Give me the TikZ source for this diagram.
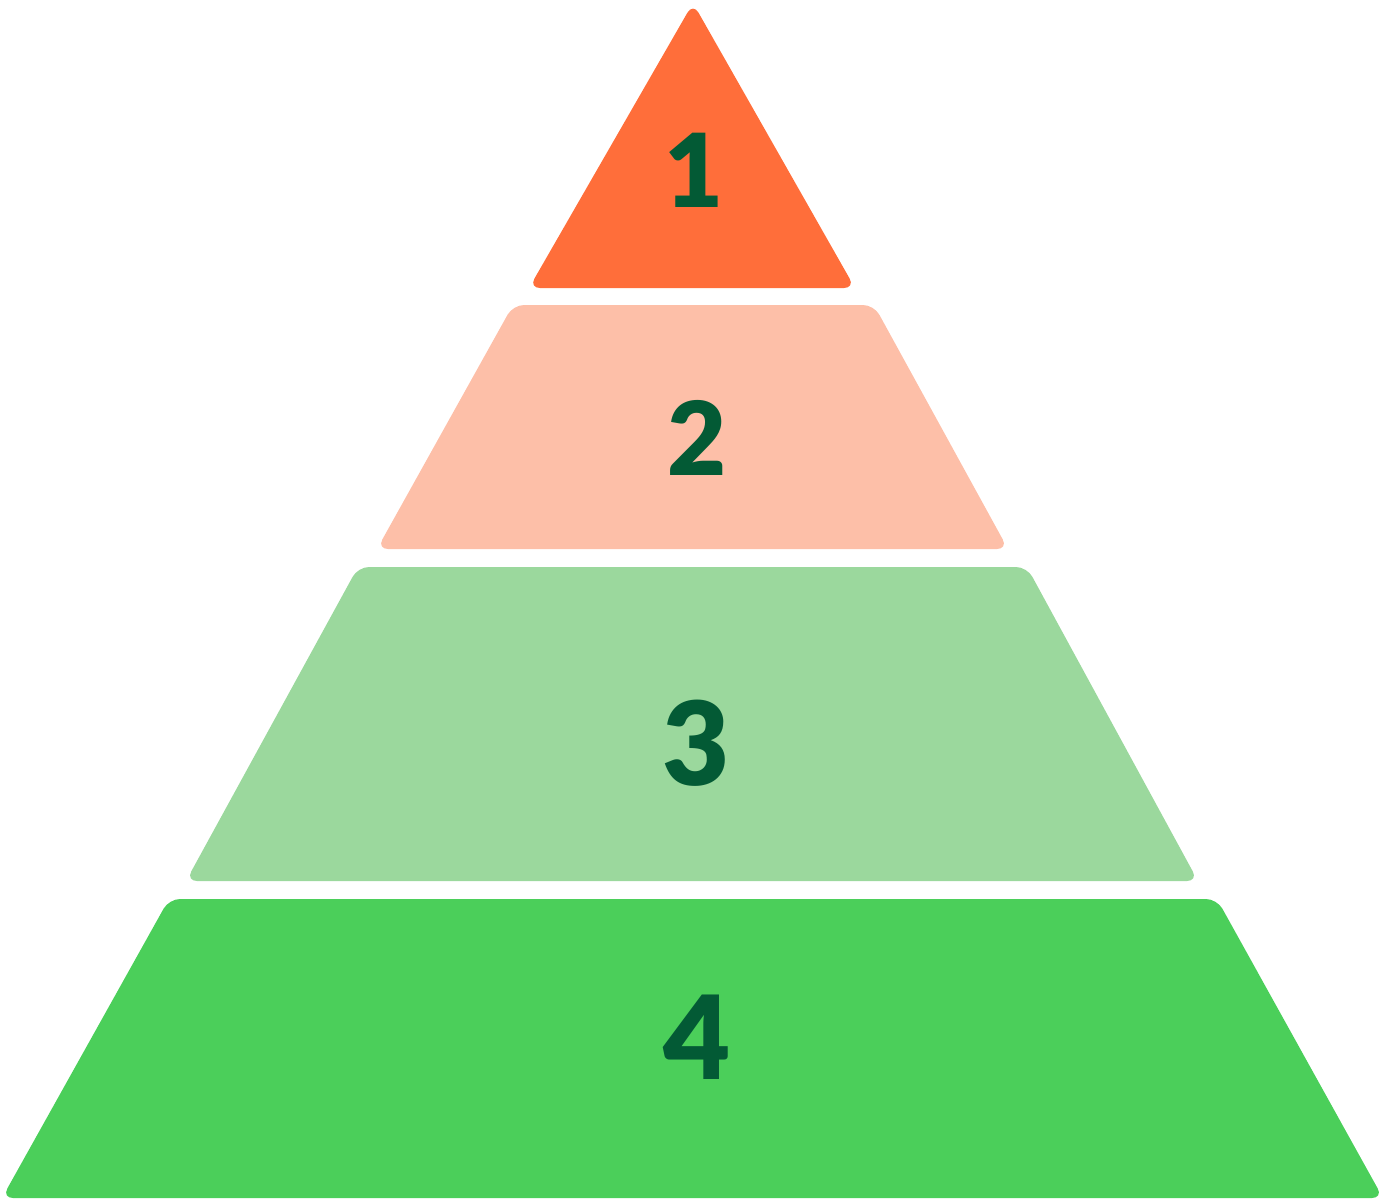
\documentclass[tikz,border=0pt]{standalone}
\usepackage{fontspec}
\setmainfont{Lato}[BoldFont={Lato Black}]
\definecolor{lvlA}{HTML}{FF6E3A}
\definecolor{lvlB}{HTML}{FDBFA8}
\definecolor{lvlC}{HTML}{9BD89D}
\definecolor{lvlD}{HTML}{4BCF5A}
\definecolor{numc}{HTML}{035A35}
\tikzset{
  layer/.style={rounded corners=11*0.01cm},
  num/.style={text=numc, inner sep=0pt, anchor=center},
}
\begin{document}
\begin{tikzpicture}[x=0.01cm,y=-0.01cm]
\useasboundingbox (0,0) rectangle (1384,1199);
% layer 1
\fill[lvlA, layer] (693,3) -- (855,288) -- (529,288) -- cycle;
% layer 2
\fill[lvlB, layer] (513,305) -- (874,305) -- (1008,549) -- (377,549) -- cycle;
% layer 3
\fill[lvlC, layer] (358,567) -- (1027,567) -- (1198,881) -- (186,881) -- cycle;
% layer 4
\fill[lvlD, layer] (169,899) -- (1217,899) -- (1383,1198) -- (2,1198) -- cycle;
\node[num, font=\fontsize{29}{31}\selectfont\bfseries] (n1) at (694,170) {1};
\node[num, font=\fontsize{29}{31}\selectfont\bfseries] (n2) at (697,438) {2};
\node[num, font=\fontsize{33}{36}\selectfont\bfseries] (n3) at (696,743) {3};
\node[num, font=\fontsize{33}{36}\selectfont\bfseries] (n4) at (697,1037) {4};
\end{tikzpicture}
\end{document}
